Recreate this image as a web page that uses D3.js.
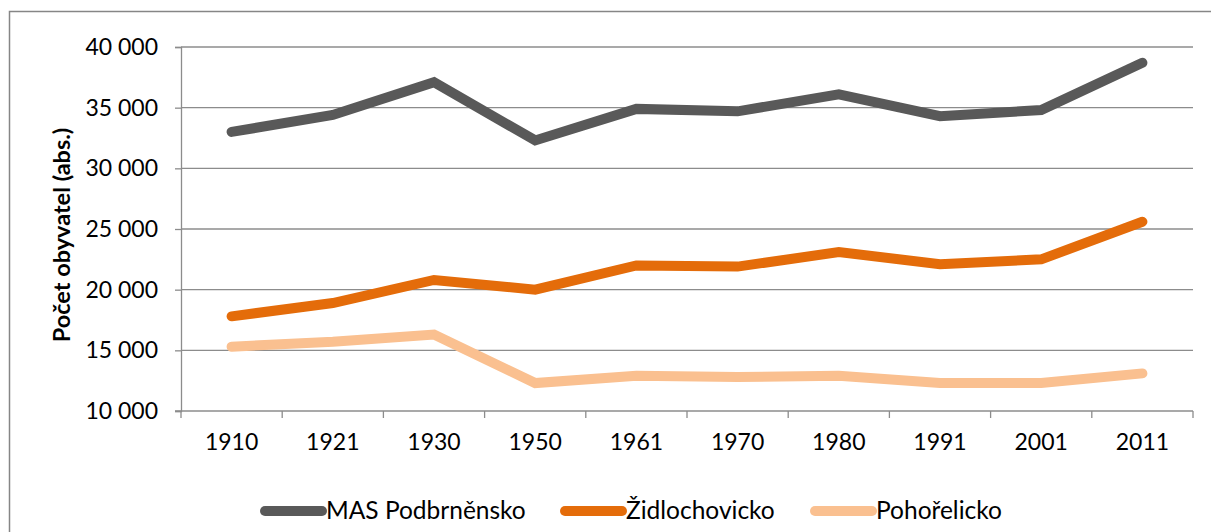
<!DOCTYPE html>
<html><head><meta charset="utf-8">
<script src="https://cdn.jsdelivr.net/npm/d3@7"></script>
<style>body{margin:0;background:#fff;}svg{display:block;font-family:Lato,"Open Sans",sans-serif;}</style>
</head><body>
<svg id="c" width="1211" height="532"></svg>
<script>
const years = ["1910","1921","1930","1950","1961","1970","1980","1991","2001","2011"];
const masPodbrnensko = [33000,34400,37100,32300,34900,34700,36100,34300,34800,38700];
const zidlochovicko = [17800,18900,20800,20000,22000,21900,23100,22100,22500,25600];
const pohorelicko = [15300,15700,16300,12300,12900,12800,12900,12300,12300,13100];
const yTicks = [10000,15000,20000,25000,30000,35000,40000];
const seriesNames = ["MAS Podbrněnsko","Židlochovicko","Pohořelicko"];
const seriesColors = ["#595959","#E46C0A","#FAC090"];
const seriesData = [masPodbrnensko, zidlochovicko, pohorelicko];

const svg = d3.select("#c");
const L = 181, R = 1193, T = 47, B = 411;

// outer border
svg.append("path").attr("d","M9.5,540 V11.5 H1215").attr("fill","none").attr("stroke","#868686").attr("stroke-width",1.5);

const x = d3.scaleBand().domain(years).range([L,R]).padding(0);
const y = d3.scaleLinear().domain([10000,40000]).range([B,T]);

// grid
svg.append("g").selectAll("line").data(yTicks.slice(1)).join("line")
  .attr("x1",L).attr("x2",R).attr("y1",d=>y(d)).attr("y2",d=>y(d))
  .attr("stroke","#8c8c8c").attr("stroke-width",1.3);

const fmt = d => d3.format(",")(d).replace(/,/g," ");
const yAxis = svg.append("g").attr("transform",`translate(${L},0)`)
  .call(d3.axisLeft(y).tickValues(yTicks).tickFormat(fmt).tickSize(6).tickPadding(17));
yAxis.select(".domain").attr("stroke","#8c8c8c").attr("stroke-width",1.3);
yAxis.selectAll(".tick line").attr("stroke","#8c8c8c").attr("stroke-width",1.3);
yAxis.selectAll("text").attr("font-size",23).attr("fill","#000").attr("font-family","Lato");

const xAxis = svg.append("g").attr("transform",`translate(0,${B})`)
  .call(d3.axisBottom(x).tickSize(0).tickPadding(23));
xAxis.select(".domain").remove();
xAxis.selectAll("text").attr("font-size",23).attr("fill","#000").attr("font-family","Lato");
svg.append("line").attr("x1",L-6).attr("x2",R).attr("y1",B).attr("y2",B).attr("stroke","#8c8c8c").attr("stroke-width",1.3);
svg.append("g").selectAll("line").data(years.concat(["end"])).join("line")
  .attr("x1",(d,i)=>L+i*x.step()).attr("x2",(d,i)=>L+i*x.step())
  .attr("y1",B).attr("y2",B+7).attr("stroke","#8c8c8c").attr("stroke-width",1.3);

// y label
svg.append("text").attr("transform","translate(70,235) rotate(-90)")
  .attr("text-anchor","middle").attr("font-weight","bold").attr("font-size",23.5)
  .attr("font-family","Lato").text("Počet obyvatel (abs.)");

// lines
const line = d3.line().x((d,i)=>x(years[i])+x.bandwidth()/2).y(d=>y(d));
seriesData.forEach((s,k)=>{
  svg.append("path").datum(s).attr("d",line).attr("fill","none")
    .attr("stroke",seriesColors[k]).attr("stroke-width",10)
    .attr("stroke-linecap","round").attr("stroke-linejoin","miter");
});

// legend
const legX = [265,565,815];
seriesNames.forEach((n,k)=>{
  svg.append("line").attr("x1",legX[k]).attr("x2",legX[k]+57).attr("y1",511).attr("y2",511)
    .attr("stroke",seriesColors[k]).attr("stroke-width",10).attr("stroke-linecap","round");
  svg.append("text").attr("x",legX[k]+61).attr("y",519).attr("font-size",24.5)
    .attr("font-family","Lato").text(n);
});
</script>
</body></html>
